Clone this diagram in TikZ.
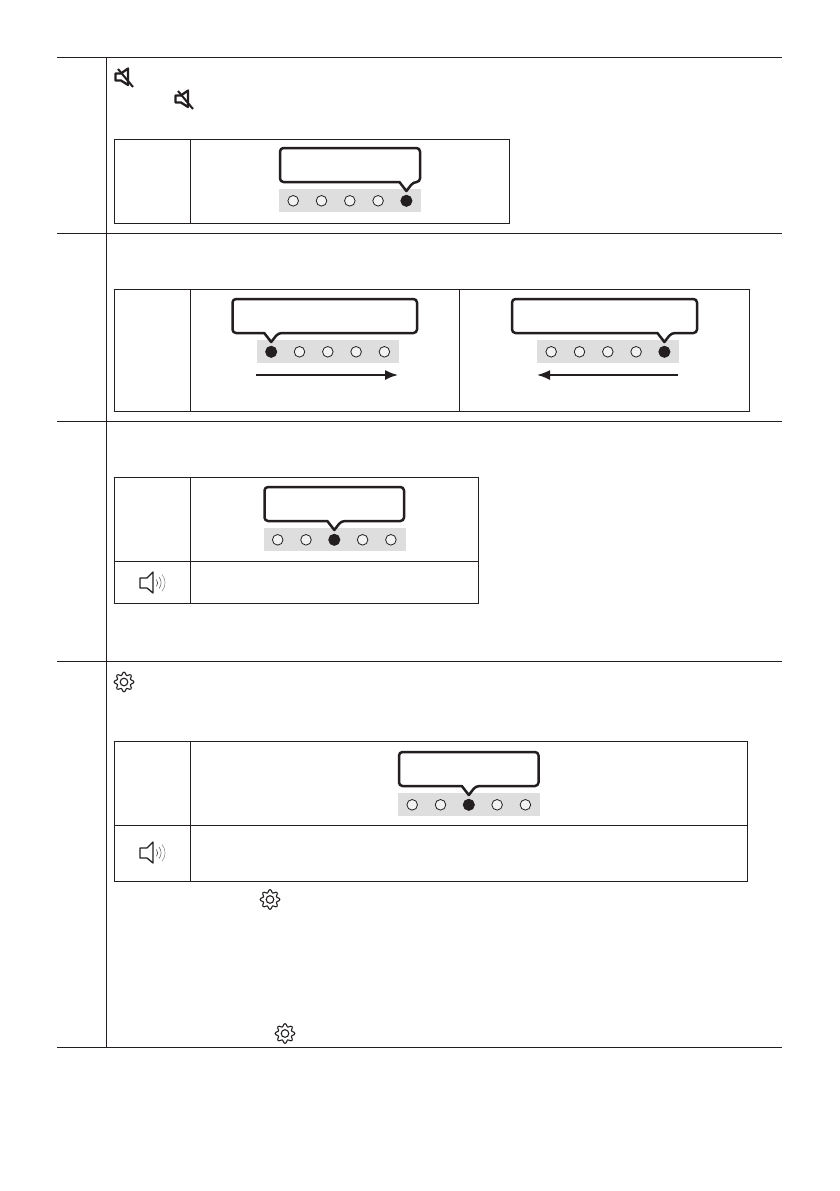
\documentclass[tikz,border=0pt]{standalone}
\usetikzlibrary{arrows.meta}
\definecolor{ink}{HTML}{231F20}
\definecolor{stripgray}{HTML}{DEDEDE}
\tikzset{
  rule/.style={draw=ink,line width=0.95pt},
  bubble/.style={draw=ink,line width=2.5pt,fill=white,line join=round},
  led/.style={draw=ink,line width=0.8pt,fill=stripgray!40},
  ledon/.style={draw=ink,line width=0.8pt,fill=ink},
  flow/.style={draw=ink,line width=1.7pt,-{Latex[length=13pt,width=10pt]}},
  icon/.style={draw=ink,line width=1.1pt,line join=round},
}
% #1 strip left, #2 strip top, #3 active LED, #4 bubble left, #5 bubble right
\newcommand{\ledstrip}[5]{%
  \fill[stripgray] (#1,#2) rectangle ({#1+142},{#2+23});
  \foreach \i in {1,...,5}{
    \pgfmathsetmacro{\cx}{#1+14.2+28.3*(\i-1)}
    \ifnum\i=#3\relax
      \path[ledon] (\cx,{#2+11.8}) circle (5.6);
      \xdef\tipx{\cx}
    \else
      \path[led] (\cx,{#2+11.8}) circle (5.3);
    \fi
  }
  \path[bubble,rounded corners=3.5] (#4,{#2-41}) -- (#5,{#2-41}) -- (#5,{#2-7})
    -- ({\tipx+7},{#2-7}) [sharp corners] -- (\tipx,{#2+2}) -- ({\tipx-7},{#2-7})
    [rounded corners=3.5] -- (#4,{#2-7}) -- cycle;
}
\newcommand{\muteicon}[2]{%
  \begin{scope}[shift={(#1,#2)}]
    \draw[icon,line width=2.3pt] (-8.5,-3.5) -- (-3,-3.5) -- (4,-8.5) -- (4,8) -- (-3,3.5) -- (-8.5,3.5) -- cycle;
    \draw[icon,line width=2pt] (-6,-8) -- (9,10);
  \end{scope}}
\newcommand{\speakericon}[2]{%
  \begin{scope}[shift={(#1,#2)}]
    \draw[icon,line width=1.3pt] (-11,-5) -- (-4,-5) -- (2,-11) -- (2,10) -- (-4,5) -- (-11,5) -- cycle;
    \draw[ink,line width=0.5pt] (5.5,-3.5) arc (-35:35:6);
    \draw[ink!75,line width=0.5pt] (8,-6) arc (-40:40:9);
    \draw[ink!55,line width=0.5pt] (11,-8.5) arc (-40:40:13);
  \end{scope}}
\newcommand{\gearicon}[2]{%
  \begin{scope}[shift={(#1,#2)}]
    \draw[icon] plot[smooth cycle,samples=48,domain=0:352.5,variable=\t]
      ({(8.4+1.5*cos(8*\t))*cos(\t)},{(8.4+1.5*cos(8*\t))*sin(\t)});
    \draw[icon] (0,0) circle (3.8);
  \end{scope}}
\begin{document}
\begin{tikzpicture}[x=1pt,y=-1pt]
\useasboundingbox (0,0) rectangle (839,1191);
\fill[white] (0,0) rectangle (839,1191);
% main frame rules
\foreach \y in {57,233,421,661,1047} \draw[rule] (57,\y) -- (782,\y);
\draw[rule] (106.5,57) -- (106.5,1047);
% table 1
\draw[rule] (114,139) rectangle (509.5,223);
\draw[rule] (190,139) -- (190,223);
% table 2
\draw[rule] (114,289) rectangle (749.5,411);
\draw[rule] (190,289) -- (190,411);
\draw[rule] (459,289) -- (459,411);
% table 3
\draw[rule] (114,477) rectangle (478.5,603);
\draw[rule] (190,477) -- (190,603);
\draw[rule] (114,561) -- (478.5,561);
% table 4
\draw[rule] (114,741) rectangle (747,881);
\draw[rule] (190,741) -- (190,881);
\draw[rule] (114,825) -- (747,825);
% LED strips with bubbles
\ledstrip{279}{189}{5}{280}{420}
\ledstrip{257}{340}{1}{232.5}{417}
\ledstrip{537}{340}{5}{512}{697}
\ledstrip{263.5}{528}{3}{264.5}{404}
\ledstrip{398}{793}{3}{399}{538.5}
% arrows
\coordinate (a1s) at (256,375); \coordinate (a1e) at (398,375);
\coordinate (a2s) at (678,375); \coordinate (a2e) at (537,375);
\draw[flow] (a1s) -- (a1e);
\draw[flow] (a2s) -- (a2e);
% icons
\muteicon{124}{77}
\muteicon{184}{99}
\speakericon{151}{583}
\speakericon{151}{853}
\gearicon{124}{682}
\gearicon{270}{899.5}
\gearicon{285}{1033.5}
\end{tikzpicture}
\end{document}
